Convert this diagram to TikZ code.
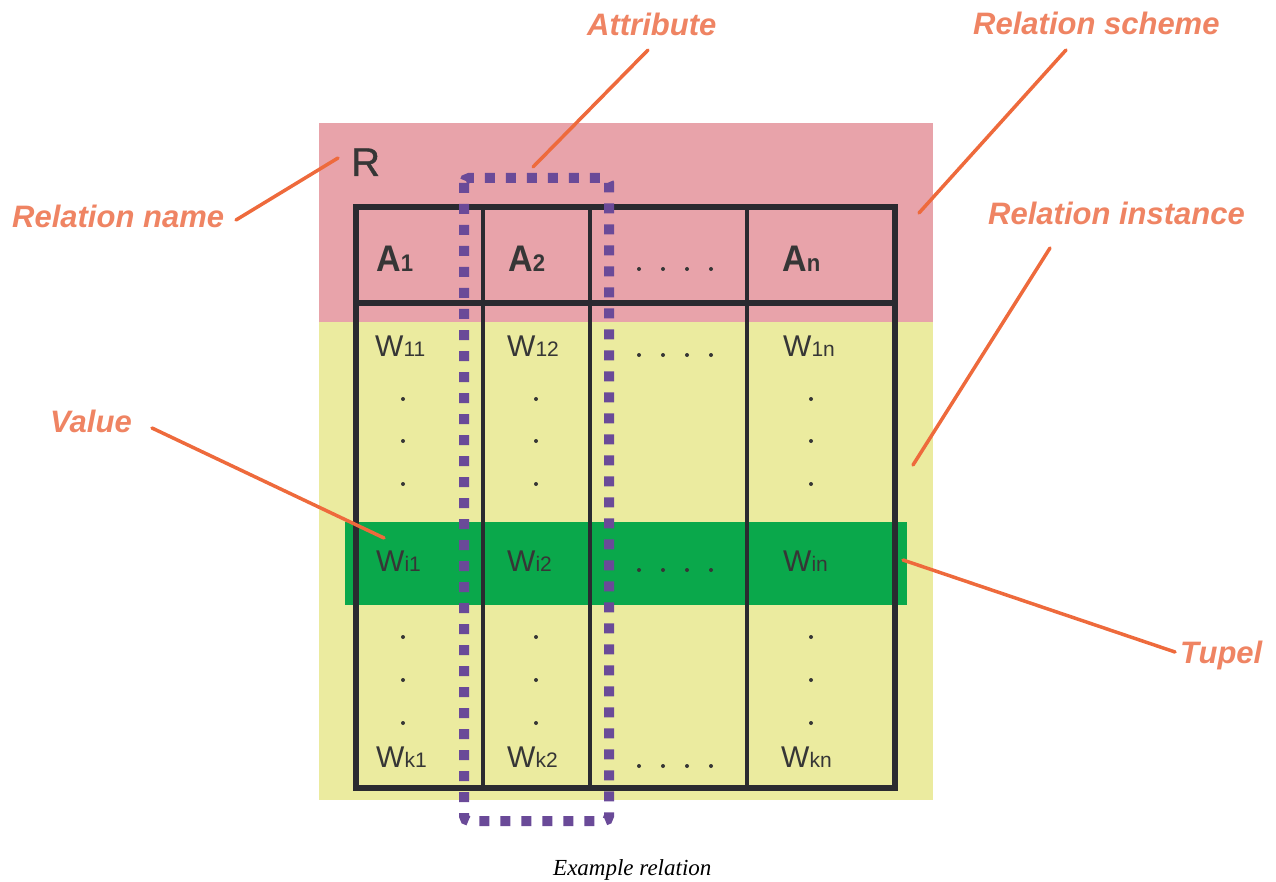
\documentclass[tikz,border=0pt]{standalone}
\usepackage{fontspec}
\setmainfont{Liberation Serif}
\setsansfont{Liberation Sans}
\newfontfamily\hdrfont[FakeStretch=0.92]{Liberation Sans Bold}
\newfontfamily\rfont[FakeBold=1.0]{Liberation Sans}
\definecolor{pinkbg}{HTML}{E8A3AA}
\definecolor{yellowbg}{HTML}{EBEB9F}
\definecolor{greenbg}{HTML}{0AA84B}
\definecolor{purp}{HTML}{6A4A98}
\definecolor{tline}{HTML}{2A2A30}
\definecolor{lbl}{HTML}{EF8463}
\definecolor{lead}{HTML}{EE6A3C}
\definecolor{txt}{HTML}{363636}
\newcommand\subA[1]{{\fontsize{24}{26}\selectfont #1}}
\newcommand\subW[1]{{\fontsize{21}{24}\selectfont #1}}
\begin{document}
\begin{tikzpicture}[x=1pt,y=-1pt,
  lab/.style={font=\sffamily\bfseries\itshape\fontsize{31}{36}\selectfont, text=lbl, anchor=base west, inner sep=0},
  leader/.style={draw=lead, line width=3.5pt, line cap=round},
  hdr/.style={font=\hdrfont\fontsize{37}{42}\selectfont, text=txt, anchor=base west, inner sep=0},
  val/.style={font=\sffamily\fontsize{30}{34}\selectfont, text=txt, anchor=base west, inner sep=0},
  thick line/.style={draw=tline, line width=6pt},
  col line/.style={draw=tline, line width=3.5pt},
  tdot/.style={fill=txt}
]
\useasboundingbox (0,0) rectangle (1276,882);
% backgrounds
\fill[pinkbg] (319,123) rectangle (933,322);
\fill[yellowbg] (319,322) rectangle (933,800);
\fill[greenbg] (345,522) rectangle (907,605);
% table
\draw[thick line] (356,207) rectangle (895,788);
\draw[thick line] (356,303) -- (895,303);
\draw[col line] (483,207) -- (483,788);
\draw[col line] (590,207) -- (590,788);
\draw[col line] (747,207) -- (747,788);
% relation name
\node[font=\rfont\fontsize{40}{42}\selectfont, text=txt, anchor=base west, inner sep=0] (R) at (351,176) {R};
% header
\node[hdr] (A1) at (376,272) {A\subA{1}};
\node[hdr] (A2) at (508,272) {A\subA{2}};
\node[hdr] (An) at (782,272) {A\subA{n}};
% values
\node[val] (w11) at (375,356) {W\subW{11}};
\node[val] (w12) at (507,356) {W\subW{12}};
\node[val] (w1n) at (783,356) {W\subW{1n}};
\node[val] (wi1) at (376,571) {W\subW{i1}};
\node[val] (wi2) at (507,571) {W\subW{i2}};
\node[val] (win) at (783,571) {W\subW{in}};
\node[val] (wk1) at (376,767) {W\subW{k1}};
\node[val] (wk2) at (507,767) {W\subW{k2}};
\node[val] (wkn) at (781,767) {W\subW{kn}};
% horizontal dots
\foreach \y in {269,355,570,766}{
  \foreach \x in {639,663,687,711}{
    \fill[tdot] (\x,\y) circle (2pt);
  }
}
% vertical dots
\foreach \x in {403,536,811}{
  \foreach \y in {399,441,484,637,680,723}{
    \fill[tdot] (\x,\y) circle (2pt);
  }
}
% attribute frame
\draw[purp, line width=10pt, dash pattern=on 10pt off 11pt, rounded corners=5pt] (464,178) rectangle (609,821);
% labels
\node[lab] (lname) at (12,228) {Relation name};
\node[lab] (lscheme) at (973,35) {Relation scheme};
\node[lab] (linst) at (988,225) {Relation instance};
\node[lab] (lattr) at (587,36) {Attribute};
\node[lab] (ltup) at (1180,663) {Tupel};
\node[lab] (lval) at (50,432) {Value};
% leader end points
\coordinate (nameS) at (236,220); \coordinate (nameE) at (338,158);
\coordinate (attrS) at (648,50); \coordinate (attrE) at (533,167);
\coordinate (schS) at (1066,50); \coordinate (schE) at (919,213);
\coordinate (instS) at (1050,248); \coordinate (instE) at (913,465);
\coordinate (valS) at (152,428); \coordinate (valE) at (384,538);
\coordinate (tupS) at (1175,652); \coordinate (tupE) at (903,560);
\draw[leader] (nameS) -- (nameE);
\draw[leader] (attrS) -- (attrE);
\draw[leader] (schS) -- (schE);
\draw[leader] (instS) -- (instE);
\draw[leader] (valS) -- (valE);
\draw[leader] (tupS) -- (tupE);
% caption
\node[font=\itshape\fontsize{23}{26}\selectfont, anchor=base west, inner sep=0] (cap) at (553,875) {Example relation};
\end{tikzpicture}
\end{document}
